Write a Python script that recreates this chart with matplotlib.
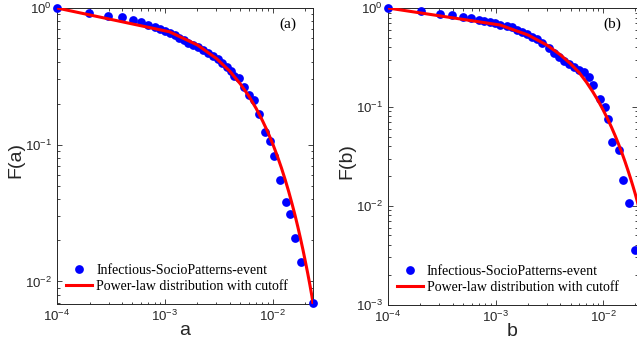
import matplotlib
matplotlib.use("Agg")
import matplotlib.pyplot as plt
from matplotlib.ticker import LogLocator, NullFormatter

# ---------------- data ----------------
a_x = [1.00e-4, 1.99e-4, 2.99e-4, 4.04e-4, 5.02e-4, 6.0e-4, 7.0e-4, 8.0e-4, 9.04e-4, 1.01e-3,
       1.12e-3, 1.23e-3, 1.34e-3, 1.49e-3, 1.64e-3, 1.83e-3, 2.03e-3, 2.26e-3, 2.49e-3, 2.78e-3,
       3.08e-3, 3.41e-3, 3.75e-3, 4.13e-3, 4.36e-3, 4.88e-3, 5.45e-3, 6.04e-3, 6.70e-3, 7.46e-3,
       8.36e-3, 9.44e-3, 1.02e-2, 1.16e-2, 1.32e-2, 1.45e-2, 1.61e-2, 1.83e-2, 2.35e-2]
a_F = [1.0, 0.924, 0.878, 0.859, 0.817, 0.786, 0.751, 0.730, 0.702, 0.682,
       0.656, 0.631, 0.608, 0.583, 0.559, 0.539, 0.516, 0.490, 0.470, 0.447,
       0.422, 0.399, 0.373, 0.345, 0.318, 0.307, 0.266, 0.232, 0.211, 0.169,
       0.124, 0.107, 0.0829, 0.0556, 0.0379, 0.0312, 0.0209, 0.0139, 0.0069]

a_fit_x = [1e-4, 1.1e-3, 2e-3, 3e-3, 4e-3, 5e-3, 6e-3, 7e-3, 8e-3, 9e-3, 1e-2,
           1.1e-2, 1.2e-2, 1.3e-2, 1.4e-2, 1.5e-2, 1.6e-2, 1.7e-2, 1.8e-2, 1.9e-2,
           2.0e-2, 2.1e-2, 2.2e-2, 2.3e-2, 2.35e-2]
a_fit_F = [1.0, 0.670, 0.536, 0.427, 0.344, 0.278, 0.226, 0.184, 0.150, 0.123, 0.1006,
           0.0823, 0.0675, 0.0553, 0.0454, 0.0372, 0.0306, 0.0251, 0.0206, 0.01695,
           0.0139, 0.01146, 0.00943, 0.00774, 0.0069]

b_x = [1.00e-4, 2.03e-4, 3.03e-4, 3.94e-4, 4.95e-4, 5.92e-4, 6.98e-4, 7.87e-4, 8.95e-4, 9.96e-4,
       1.09e-3, 1.28e-3, 1.42e-3, 1.58e-3, 1.76e-3, 1.96e-3, 2.19e-3, 2.43e-3, 2.71e-3, 3.13e-3,
       3.48e-3, 3.87e-3, 4.31e-3, 4.80e-3, 5.34e-3, 5.94e-3, 6.61e-3, 7.36e-3, 8.07e-3, 9.31e-3,
       1.05e-2, 1.11e-2, 1.21e-2, 1.40e-2, 1.52e-2, 1.76e-2, 2.00e-2]
b_F = [1.0, 0.933, 0.870, 0.850, 0.806, 0.787, 0.756, 0.744, 0.717, 0.701,
       0.673, 0.658, 0.638, 0.600, 0.568, 0.546, 0.513, 0.483, 0.440, 0.392,
       0.354, 0.322, 0.294, 0.272, 0.255, 0.236, 0.227, 0.1995, 0.1668, 0.1197,
       0.0993, 0.0751, 0.0436, 0.0362, 0.0180, 0.0107, 0.0036]

b_fit_x = [1e-4, 1.1e-3, 2e-3, 3e-3, 4e-3, 5e-3, 6e-3, 7e-3, 8e-3, 9e-3, 1e-2,
           1.1e-2, 1.2e-2, 1.3e-2, 1.4e-2, 1.5e-2, 1.6e-2, 1.7e-2, 1.8e-2, 1.9e-2,
           2.0e-2, 2.1e-2, 2.2e-2]
b_fit_F = [1.0, 0.673, 0.534, 0.422, 0.337, 0.272, 0.222, 0.178, 0.1430, 0.1155, 0.0935,
           0.0760, 0.0620, 0.0507, 0.0415, 0.0341, 0.0280, 0.0230, 0.0190, 0.0157,
           0.0130, 0.0107, 0.0088]

legend_labels = ["Infectious-SocioPatterns-event", "Power-law distribution with cutoff"]

# ---------------- styling ----------------
plt.rcParams['font.family'] = ['Liberation Sans', 'DejaVu Sans']
plt.rcParams['mathtext.fontset'] = 'custom'
plt.rcParams['mathtext.rm'] = 'Liberation Sans'
plt.rcParams['mathtext.it'] = 'Liberation Sans:italic'

W, H = 637, 348
fig = plt.figure(figsize=(W / 100, H / 100), dpi=100)

axcol = (0.15, 0.15, 0.15)


def px_axes(l, r, t, b):
    return [l / W, 1 - b / H, (r - l) / W, (b - t) / H]


panels = [
    dict(rect=px_axes(57, 313, 8, 303.5), x=a_x, F=a_F, fx=a_fit_x, fF=a_fit_F,
         xlim=(1e-4, 2.35e-2), ylim=(0.0069, 1.0), xlabel='a', ylabel='F(a)', tag='(a)',
         ylabx=-33 / 256),
    dict(rect=px_axes(388, 637, 8, 304.5), x=b_x, F=b_F, fx=b_fit_x, fF=b_fit_F,
         xlim=(1e-4, 0.0207), ylim=(1e-3, 1.0), xlabel='b', ylabel='F(b)', tag='(b)',
         ylabx=-33 / 249),
]

for p in panels:
    ax = fig.add_axes(p['rect'])
    ax.set_xscale('log')
    ax.set_yscale('log')
    l1, = ax.plot(p['x'], p['F'], 'o', color=(0, 0, 1), markersize=6.3,
                  markeredgewidth=0, clip_on=False, zorder=3,
                  label=legend_labels[0])
    l2, = ax.plot(p['fx'], p['fF'], '-', color=(1, 0, 0), linewidth=2.2, zorder=4,
                  label=legend_labels[1])
    ax.set_xlim(*p['xlim'])
    ax.set_ylim(*p['ylim'])
    ax.xaxis.set_major_locator(LogLocator(base=10, numticks=10))
    ax.yaxis.set_major_locator(LogLocator(base=10, numticks=10))
    ax.xaxis.set_minor_locator(LogLocator(base=10, subs=range(2, 10), numticks=20))
    ax.yaxis.set_minor_locator(LogLocator(base=10, subs=range(2, 10), numticks=20))
    ax.xaxis.set_minor_formatter(NullFormatter())
    ax.yaxis.set_minor_formatter(NullFormatter())
    ax.tick_params(which='both', direction='in', top=True, right=True,
                   colors=axcol, labelsize=9.5, width=0.6)
    ax.tick_params(which='major', length=3.5, pad=3.5)
    ax.tick_params(which='minor', length=1.8)
    for s in ax.spines.values():
        s.set_color(axcol)
        s.set_linewidth(0.7)
    ax.set_xlabel(p['xlabel'], fontsize=14, color=axcol, labelpad=-1)
    ax.set_ylabel(p['ylabel'], fontsize=14, color=axcol)
    ax.yaxis.set_label_coords(p['ylabx'], 0.485)
    ax.text(0.90, 0.946, p['tag'], transform=ax.transAxes, ha='center', va='center',
            fontsize=11, family='Liberation Serif', color='black')
    ax.legend(handles=[l1, l2], loc='lower left', bbox_to_anchor=(0.035, 0.037),
              frameon=False, borderpad=0, borderaxespad=0, handlelength=1.87,
              handletextpad=0.3, labelspacing=0.17, numpoints=1,
              prop={'family': 'Liberation Serif', 'size': 10})

fig.savefig('out.png', dpi=100)
